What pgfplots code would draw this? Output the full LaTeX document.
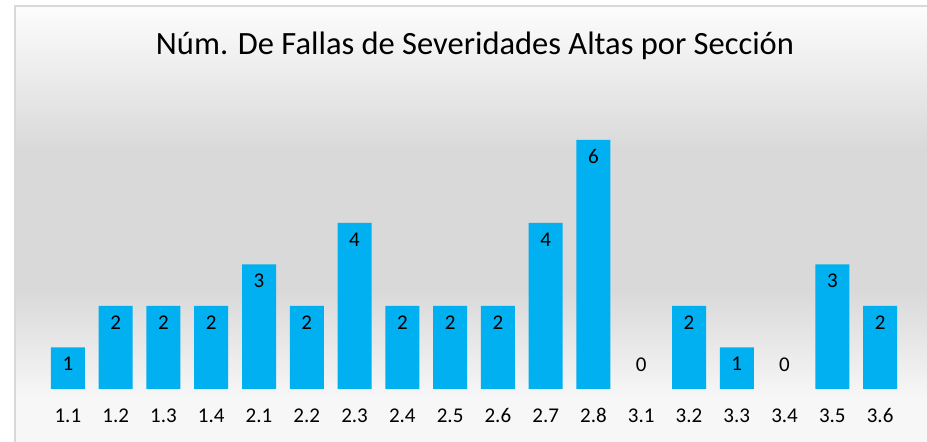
\documentclass[border=0pt]{standalone}
\usepackage{fontspec}
\setmainfont{Carlito}
\usepackage{pgfplots}
\pgfplotsset{compat=1.18}
\definecolor{barblue}{HTML}{00B0F0}
\definecolor{bggray}{RGB}{217,217,217}
\definecolor{framegray}{RGB}{217,217,217}

\begin{document}
\begin{tikzpicture}
\path[use as bounding box] (0bp,0bp) rectangle (927bp,442bp);
% fondo degradado del área del gráfico (y en px invertida: 442 - y)
\fill[white] (0bp,0bp) rectangle (927bp,442bp);
\shade[top color=white!99!black, bottom color=bggray] (15bp,292bp) rectangle (927bp,436bp);
\fill[bggray] (15bp,152bp) rectangle (927bp,292.5bp);
\shade[top color=bggray, bottom color=white!97!black] (15bp,42bp) rectangle (927bp,152.5bp);
\fill[white!97!black] (15bp,0bp) rectangle (927bp,42.5bp);
\draw[framegray, line width=2bp] (15bp,0bp) -- (15bp,436bp) -- (927bp,436bp);

\node[font=\fontsize{32.5bp}{38bp}\selectfont, anchor=base] at (475bp,387bp)
  {Núm. De Fallas de Severidades Altas por Sección};

\begin{axis}[
  at={(44bp,53bp)}, anchor=south west,
  scale only axis, width=860bp, height=269.75bp,
  xmin=-0.5, xmax=17.5, ymin=0, ymax=6.5,
  axis line style={draw=none},
  major tick length=0pt,
  ytick=\empty,
  xtick={0,...,17},
  xticklabels={1.1,1.2,1.3,1.4,2.1,2.2,2.3,2.4,2.5,2.6,2.7,2.8,3.1,3.2,3.3,3.4,3.5,3.6},
  xticklabel style={font=\fontsize{21bp}{25bp}\selectfont, anchor=base, yshift=-34bp},
  ybar, bar width=34bp,
  every axis plot post/.append style={/pgfplots/bar shift=0pt},
  nodes near coords,
  /pgf/number format/assume math mode=true,
  clip=false,
]
% secciones con fallas (etiqueta dentro de la barra)
\addplot[fill=barblue, draw=none,
  nodes near coords style={font=\fontsize{21bp}{25bp}\selectfont, anchor=base, yshift=-23.5bp}]
  coordinates {(0,1) (1,2) (2,2) (3,2) (4,3) (5,2) (6,4) (7,2) (8,2) (9,2)
               (10,4) (11,6) (13,2) (14,1) (16,3) (17,2)};
% secciones sin fallas
\addplot[fill=none, draw=none,
  nodes near coords style={font=\fontsize{21bp}{25bp}\selectfont, anchor=base, yshift=17.5bp}]
  coordinates {(12,0) (15,0)};
\end{axis}
\end{tikzpicture}
\end{document}
